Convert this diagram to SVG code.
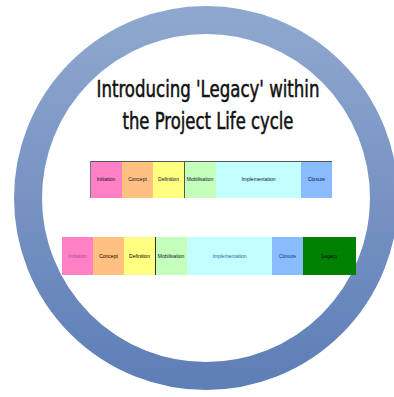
<svg xmlns="http://www.w3.org/2000/svg" width="394" height="397" viewBox="0 0 394 397">
<defs>
<linearGradient id="ring" x1="0" y1="0" x2="0" y2="1">
<stop offset="0" stop-color="#8EA7CE"/>
<stop offset="1" stop-color="#5F7FB7"/>
</linearGradient>
</defs>
<style>
.t{font-family:"Liberation Sans",Arial,sans-serif;font-size:5px;text-anchor:middle;fill:#101030}
.title{font-family:"DejaVu Sans Condensed","DejaVu Sans",sans-serif;font-size:23px;text-anchor:middle;fill:#111;stroke:#111;stroke-width:0.5}
.pk{fill:#FF80C4}.or{fill:#FFC080}.ye{fill:#FFFF80}.gr{fill:#C4FFBC}.cy{fill:#C4FFFF}.bl{fill:#88BCFF}.dg{fill:#008000}
</style>
<rect width="394" height="397" fill="#fff"/>
<circle cx="206" cy="198" r="178" fill="#fff" stroke="url(#ring)" stroke-width="28"/>
<g id="title">
<text class="title" x="208" y="97" textLength="223" lengthAdjust="spacingAndGlyphs">Introducing 'Legacy' within</text>
<text class="title" x="208" y="129" textLength="171" lengthAdjust="spacingAndGlyphs">the Project Life cycle</text>
</g>
<g id="bar1">
<rect class="pk" x="90" y="161" width="32" height="37"/>
<rect class="or" x="122" y="161" width="31" height="37"/>
<rect class="ye" x="153" y="161" width="31" height="37"/>
<rect class="gr" x="184" y="161" width="32" height="37"/>
<rect class="cy" x="216" y="161" width="85" height="37"/>
<rect class="bl" x="301" y="161" width="31" height="37"/>
<line x1="90" y1="161.5" x2="332" y2="161.5" stroke="#555" stroke-width="1"/>
<line x1="90.5" y1="161" x2="90.5" y2="198" stroke="#777" stroke-width="1"/>
<line x1="184.5" y1="161" x2="184.5" y2="198" stroke="#554" stroke-width="1"/>
<text class="t" x="106" y="181">Initiation</text>
<text class="t" x="137.5" y="181">Concept</text>
<text class="t" x="168.5" y="181">Definition</text>
<text class="t" x="200" y="181">Mobilisation</text>
<text class="t" x="258.5" y="181">Implementation</text>
<text class="t" x="316.5" y="181">Closure</text>
</g>
<g id="bar2">
<rect class="pk" x="62" y="237" width="31" height="38"/>
<rect class="or" x="93" y="237" width="31" height="38"/>
<rect class="ye" x="124" y="237" width="31" height="38"/>
<rect class="gr" x="155" y="237" width="32" height="38"/>
<rect class="cy" x="187" y="237" width="85" height="38"/>
<rect class="bl" x="272" y="237" width="31" height="38"/>
<rect class="dg" x="303" y="237" width="53" height="38"/>
<line x1="155.5" y1="237" x2="155.5" y2="275" stroke="#332" stroke-width="1"/>
<text class="t" x="77.5" y="258" style="fill:#A050B0">Initiation</text>
<text class="t" x="108.5" y="258" style="fill:#000">Concept</text>
<text class="t" x="139.5" y="258" style="fill:#000">Definition</text>
<text class="t" x="171" y="258">Mobilisation</text>
<text class="t" x="229.5" y="258" style="fill:#3060A0">Implementation</text>
<text class="t" x="287.5" y="258" style="fill:#203070">Closure</text>
<text class="t" x="329.5" y="258" style="fill:#000">Legacy</text>
</g>
</svg>
